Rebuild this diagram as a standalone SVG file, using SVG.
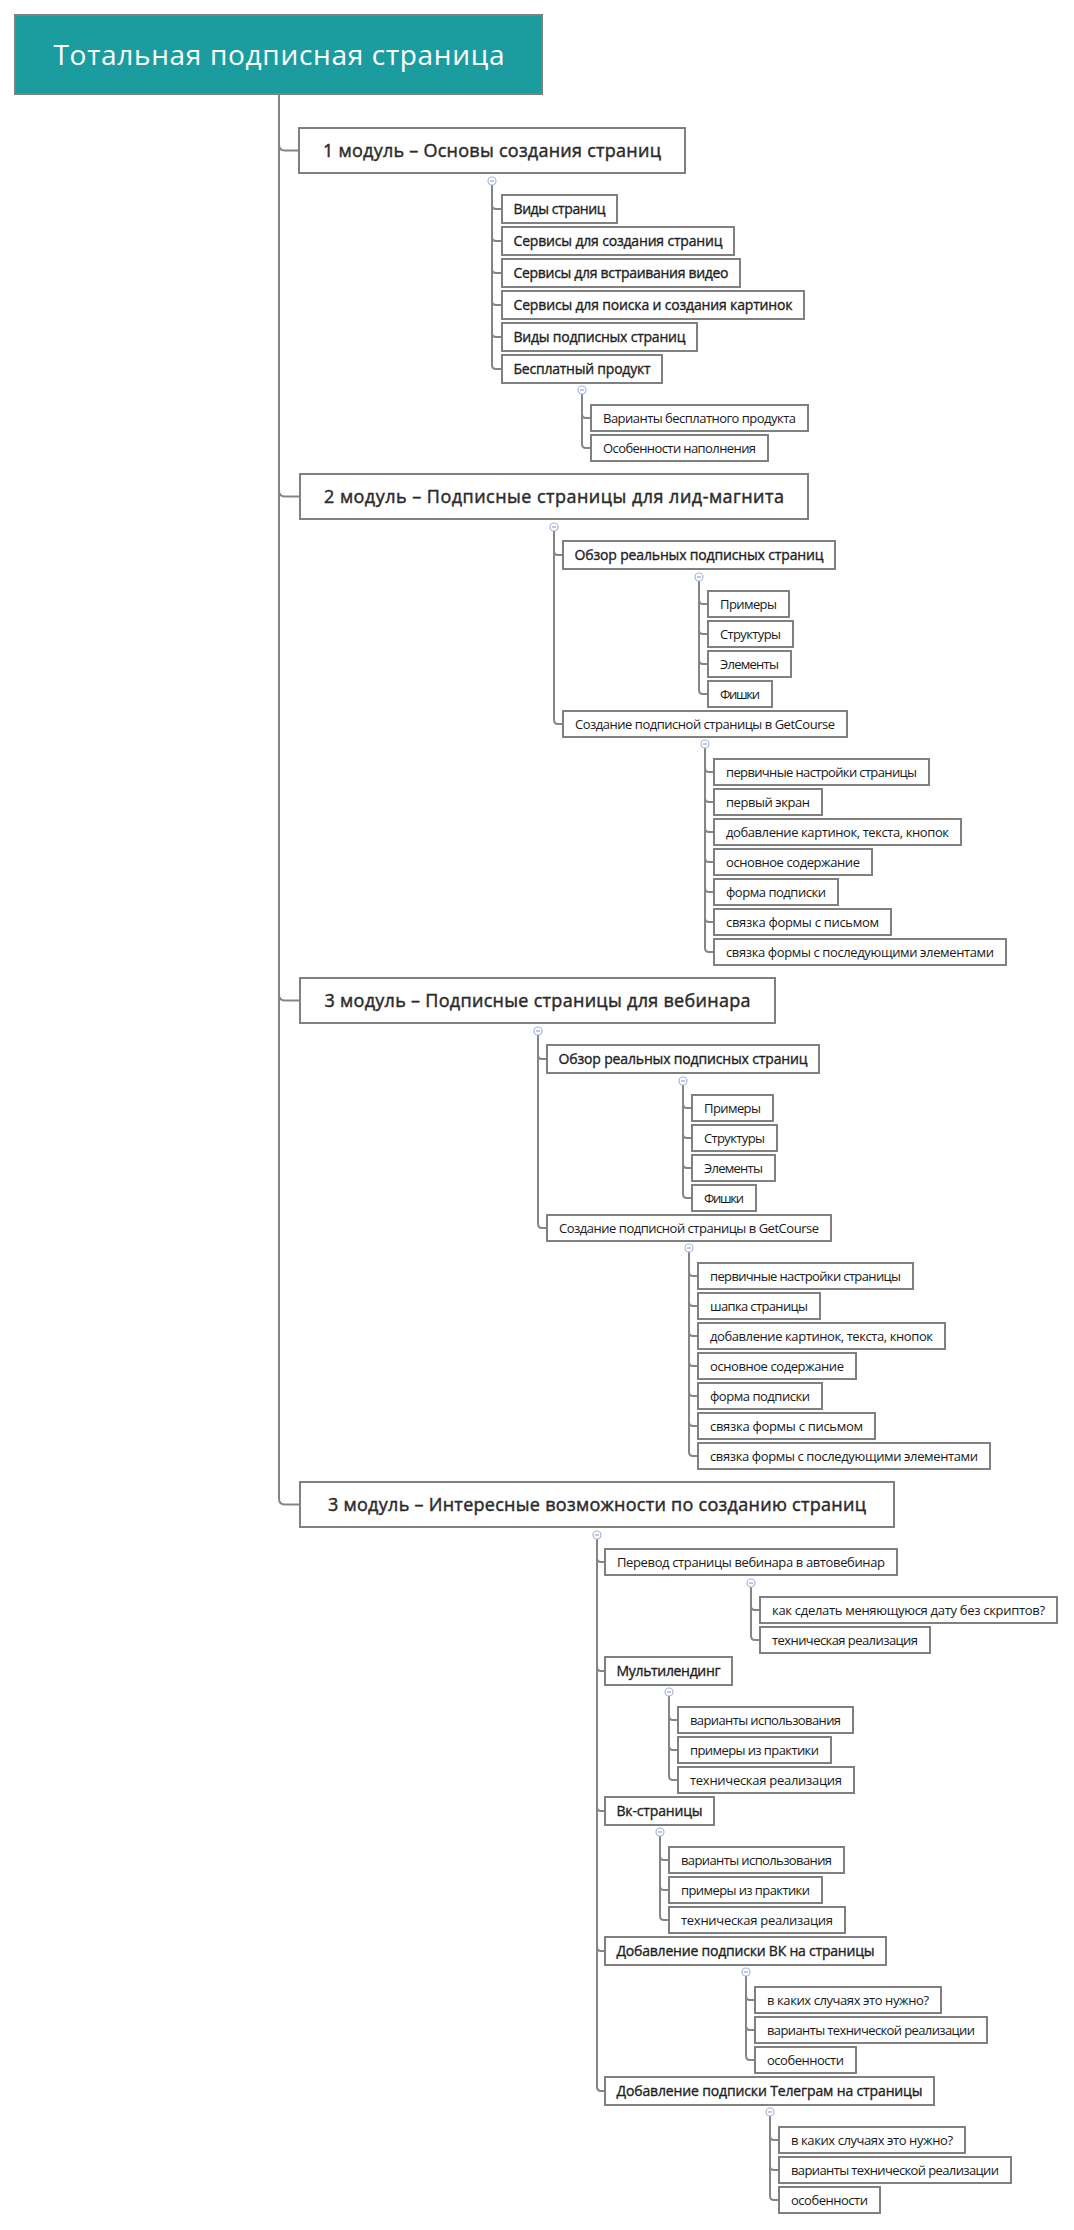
<svg xmlns="http://www.w3.org/2000/svg" width="1074" height="2230" viewBox="0 0 1074 2230">
<style>
rect{fill:#fff;stroke:#808080;stroke-width:2}
#root rect{fill:#1b9d9f}
text{font-family:"Open Sans","Noto Sans","DejaVu Sans",sans-serif;fill:#2a2a2a}
.t{font-size:28px;fill:#fff;text-anchor:middle}
.m{font-size:18px;text-anchor:middle;fill:#2b2b2b;stroke:#2b2b2b;stroke-width:0.45}
.d{font-size:14px;fill:#1e1e1e;stroke:#1e1e1e;stroke-width:0.35}
.r{font-size:13px;fill:#1a1a1a}
#connectors path{fill:none;stroke:#858585;stroke-width:2}
.tg circle{fill:#fff;stroke:#a6b4de;stroke-width:1.2}
.tg path{stroke:#7f91cf;stroke-width:1}
</style>
<rect width="1074" height="2230" style="fill:#fff;stroke:none"/>
<g id="connectors">
<path d="M279 94V144.5Q279 150.5 285 150.5H299"/>
<path d="M279 94V490.5Q279 496.5 285 496.5H300"/>
<path d="M279 94V994.5Q279 1000.5 285 1000.5H300"/>
<path d="M279 94V1498.5Q279 1504.5 285 1504.5H300"/>
<path d="M492 185V205Q492 209 496 209H502"/>
<path d="M492 185V237Q492 241 496 241H502"/>
<path d="M492 185V269Q492 273 496 273H502"/>
<path d="M492 185V301Q492 305 496 305H502"/>
<path d="M492 185V333Q492 337 496 337H502"/>
<path d="M492 185V365Q492 369 496 369H502"/>
<path d="M582 394V414Q582 418 586 418H591"/>
<path d="M582 394V444Q582 448 586 448H591"/>
<path d="M554 531V551Q554 555 558 555H563"/>
<path d="M554 531V720Q554 724 558 724H563"/>
<path d="M699 581V600Q699 604 703 604H708"/>
<path d="M699 581V630Q699 634 703 634H708"/>
<path d="M699 581V660Q699 664 703 664H708"/>
<path d="M699 581V690Q699 694 703 694H708"/>
<path d="M705 748V768Q705 772 709 772H714"/>
<path d="M705 748V798Q705 802 709 802H714"/>
<path d="M705 748V828Q705 832 709 832H714"/>
<path d="M705 748V858Q705 862 709 862H714"/>
<path d="M705 748V888Q705 892 709 892H714"/>
<path d="M705 748V918Q705 922 709 922H714"/>
<path d="M705 748V948Q705 952 709 952H714"/>
<path d="M538 1035V1055Q538 1059 542 1059H547"/>
<path d="M538 1035V1224Q538 1228 542 1228H547"/>
<path d="M683 1085V1104Q683 1108 687 1108H692"/>
<path d="M683 1085V1134Q683 1138 687 1138H692"/>
<path d="M683 1085V1164Q683 1168 687 1168H692"/>
<path d="M683 1085V1194Q683 1198 687 1198H692"/>
<path d="M689 1252V1272Q689 1276 693 1276H698"/>
<path d="M689 1252V1302Q689 1306 693 1306H698"/>
<path d="M689 1252V1332Q689 1336 693 1336H698"/>
<path d="M689 1252V1362Q689 1366 693 1366H698"/>
<path d="M689 1252V1392Q689 1396 693 1396H698"/>
<path d="M689 1252V1422Q689 1426 693 1426H698"/>
<path d="M689 1252V1452Q689 1456 693 1456H698"/>
<path d="M597 1539V1558Q597 1562 601 1562H605"/>
<path d="M597 1539V1667Q597 1671 601 1671H605"/>
<path d="M597 1539V1807Q597 1811 601 1811H605"/>
<path d="M597 1539V1947Q597 1951 601 1951H605"/>
<path d="M597 1539V2087Q597 2091 601 2091H605"/>
<path d="M751 1587V1606Q751 1610 755 1610H760"/>
<path d="M751 1587V1636Q751 1640 755 1640H760"/>
<path d="M669 1696V1716Q669 1720 673 1720H678"/>
<path d="M669 1696V1746Q669 1750 673 1750H678"/>
<path d="M669 1696V1776Q669 1780 673 1780H678"/>
<path d="M660 1836V1856Q660 1860 664 1860H669"/>
<path d="M660 1836V1886Q660 1890 664 1890H669"/>
<path d="M660 1836V1916Q660 1920 664 1920H669"/>
<path d="M746 1976V1996Q746 2000 750 2000H755"/>
<path d="M746 1976V2026Q746 2030 750 2030H755"/>
<path d="M746 1976V2056Q746 2060 750 2060H755"/>
<path d="M770 2116V2136Q770 2140 774 2140H779"/>
<path d="M770 2116V2166Q770 2170 774 2170H779"/>
<path d="M770 2116V2196Q770 2200 774 2200H779"/>
</g>
<g class="tg">
<circle cx="492" cy="181" r="4"/><path d="M490 181H494"/>
<circle cx="582" cy="390" r="4"/><path d="M580 390H584"/>
<circle cx="554" cy="527" r="4"/><path d="M552 527H556"/>
<circle cx="699" cy="577" r="4"/><path d="M697 577H701"/>
<circle cx="705" cy="744" r="4"/><path d="M703 744H707"/>
<circle cx="538" cy="1031" r="4"/><path d="M536 1031H540"/>
<circle cx="683" cy="1081" r="4"/><path d="M681 1081H685"/>
<circle cx="689" cy="1248" r="4"/><path d="M687 1248H691"/>
<circle cx="597" cy="1535" r="4"/><path d="M595 1535H599"/>
<circle cx="751" cy="1583" r="4"/><path d="M749 1583H753"/>
<circle cx="669" cy="1692" r="4"/><path d="M667 1692H671"/>
<circle cx="660" cy="1832" r="4"/><path d="M658 1832H662"/>
<circle cx="746" cy="1972" r="4"/><path d="M744 1972H748"/>
<circle cx="770" cy="2112" r="4"/><path d="M768 2112H772"/>
</g>
<g id="root"><rect x="15" y="15" width="527" height="79"/><text class="t" x="279" y="64.5" textLength="451">Тотальная подписная страница</text></g>
<g id="m1"><rect x="299" y="128" width="386" height="45"/><text class="m" x="492" y="157" textLength="338">1 модуль – Основы создания страниц</text></g>
<g id="m1-1"><rect x="502" y="195" width="115" height="28"/><text class="d" x="513.5" y="214" textLength="92">Виды страниц</text></g>
<g id="m1-2"><rect x="502" y="227" width="232" height="28"/><text class="d" x="513.5" y="246" textLength="209">Сервисы для создания страниц</text></g>
<g id="m1-3"><rect x="502" y="259" width="238" height="28"/><text class="d" x="513.5" y="278" textLength="215">Сервисы для встраивания видео</text></g>
<g id="m1-4"><rect x="502" y="291" width="302" height="28"/><text class="d" x="513.5" y="310" textLength="279">Сервисы для поиска и создания картинок</text></g>
<g id="m1-5"><rect x="502" y="323" width="195" height="28"/><text class="d" x="513.5" y="342" textLength="172">Виды подписных страниц</text></g>
<g id="m1-6"><rect x="502" y="355" width="160" height="28"/><text class="d" x="513.5" y="374" textLength="137">Бесплатный продукт</text></g>
<g id="m1-6-1"><rect x="591" y="405" width="217" height="26"/><text class="r" x="603" y="423" textLength="193">Варианты бесплатного продукта</text></g>
<g id="m1-6-2"><rect x="591" y="435" width="177" height="26"/><text class="r" x="603" y="453" textLength="153">Особенности наполнения</text></g>
<g id="m2"><rect x="300" y="474" width="508" height="45"/><text class="m" x="554" y="503" textLength="460">2 модуль – Подписные страницы для лид-магнита</text></g>
<g id="m2-1"><rect x="563" y="541" width="272" height="28"/><text class="d" x="574.5" y="560" textLength="249">Обзор реальных подписных страниц</text></g>
<g id="m2-1-1"><rect x="708" y="591" width="81" height="26"/><text class="r" x="720" y="609" textLength="57">Примеры</text></g>
<g id="m2-1-2"><rect x="708" y="621" width="85" height="26"/><text class="r" x="720" y="639" textLength="61">Структуры</text></g>
<g id="m2-1-3"><rect x="708" y="651" width="83" height="26"/><text class="r" x="720" y="669" textLength="59">Элементы</text></g>
<g id="m2-1-4"><rect x="708" y="681" width="64" height="26"/><text class="r" x="720" y="699" textLength="40">Фишки</text></g>
<g id="m2-2"><rect x="563" y="711" width="284" height="26"/><text class="r" x="575" y="729" textLength="260">Создание подписной страницы в GetCourse</text></g>
<g id="m2-2-1"><rect x="714" y="759" width="215" height="26"/><text class="r" x="726" y="777" textLength="191">первичные настройки страницы</text></g>
<g id="m2-2-2"><rect x="714" y="789" width="108" height="26"/><text class="r" x="726" y="807" textLength="84">первый экран</text></g>
<g id="m2-2-3"><rect x="714" y="819" width="247" height="26"/><text class="r" x="726" y="837" textLength="223">добавление картинок, текста, кнопок</text></g>
<g id="m2-2-4"><rect x="714" y="849" width="158" height="26"/><text class="r" x="726" y="867" textLength="134">основное содержание</text></g>
<g id="m2-2-5"><rect x="714" y="879" width="124" height="26"/><text class="r" x="726" y="897" textLength="100">форма подписки</text></g>
<g id="m2-2-6"><rect x="714" y="909" width="177" height="26"/><text class="r" x="726" y="927" textLength="153">связка формы с письмом</text></g>
<g id="m2-2-7"><rect x="714" y="939" width="292" height="26"/><text class="r" x="726" y="957" textLength="268">связка формы с последующими элементами</text></g>
<g id="m3"><rect x="300" y="978" width="475" height="45"/><text class="m" x="537.5" y="1007" textLength="426">3 модуль – Подписные страницы для вебинара</text></g>
<g id="m3-1"><rect x="547" y="1045" width="272" height="28"/><text class="d" x="558.5" y="1064" textLength="249">Обзор реальных подписных страниц</text></g>
<g id="m3-1-1"><rect x="692" y="1095" width="81" height="26"/><text class="r" x="704" y="1113" textLength="57">Примеры</text></g>
<g id="m3-1-2"><rect x="692" y="1125" width="85" height="26"/><text class="r" x="704" y="1143" textLength="61">Структуры</text></g>
<g id="m3-1-3"><rect x="692" y="1155" width="83" height="26"/><text class="r" x="704" y="1173" textLength="59">Элементы</text></g>
<g id="m3-1-4"><rect x="692" y="1185" width="64" height="26"/><text class="r" x="704" y="1203" textLength="40">Фишки</text></g>
<g id="m3-2"><rect x="547" y="1215" width="284" height="26"/><text class="r" x="559" y="1233" textLength="260">Создание подписной страницы в GetCourse</text></g>
<g id="m3-2-1"><rect x="698" y="1263" width="215" height="26"/><text class="r" x="710" y="1281" textLength="191">первичные настройки страницы</text></g>
<g id="m3-2-2"><rect x="698" y="1293" width="122" height="26"/><text class="r" x="710" y="1311" textLength="98">шапка страницы</text></g>
<g id="m3-2-3"><rect x="698" y="1323" width="247" height="26"/><text class="r" x="710" y="1341" textLength="223">добавление картинок, текста, кнопок</text></g>
<g id="m3-2-4"><rect x="698" y="1353" width="158" height="26"/><text class="r" x="710" y="1371" textLength="134">основное содержание</text></g>
<g id="m3-2-5"><rect x="698" y="1383" width="124" height="26"/><text class="r" x="710" y="1401" textLength="100">форма подписки</text></g>
<g id="m3-2-6"><rect x="698" y="1413" width="177" height="26"/><text class="r" x="710" y="1431" textLength="153">связка формы с письмом</text></g>
<g id="m3-2-7"><rect x="698" y="1443" width="292" height="26"/><text class="r" x="710" y="1461" textLength="268">связка формы с последующими элементами</text></g>
<g id="m4"><rect x="300" y="1482" width="594" height="45"/><text class="m" x="597" y="1511" textLength="538">3 модуль – Интересные возможности по созданию страниц</text></g>
<g id="m4-1"><rect x="605" y="1549" width="292" height="26"/><text class="r" x="617" y="1567" textLength="268">Перевод страницы вебинара в автовебинар</text></g>
<g id="m4-1-1"><rect x="760" y="1597" width="297" height="26"/><text class="r" x="772" y="1615" textLength="273">как сделать меняющуюся дату без скриптов?</text></g>
<g id="m4-1-2"><rect x="760" y="1627" width="170" height="26"/><text class="r" x="772" y="1645" textLength="146">техническая реализация</text></g>
<g id="m4-2"><rect x="605" y="1657" width="127" height="28"/><text class="d" x="616.5" y="1676" textLength="104">Мультилендинг</text></g>
<g id="m4-2-1"><rect x="678" y="1707" width="175" height="26"/><text class="r" x="690" y="1725" textLength="151">варианты использования</text></g>
<g id="m4-2-2"><rect x="678" y="1737" width="153" height="26"/><text class="r" x="690" y="1755" textLength="129">примеры из практики</text></g>
<g id="m4-2-3"><rect x="678" y="1767" width="176" height="26"/><text class="r" x="690" y="1785" textLength="152">техническая реализация</text></g>
<g id="m4-3"><rect x="605" y="1797" width="109" height="28"/><text class="d" x="616.5" y="1816" textLength="86">Вк-страницы</text></g>
<g id="m4-3-1"><rect x="669" y="1847" width="175" height="26"/><text class="r" x="681" y="1865" textLength="151">варианты использования</text></g>
<g id="m4-3-2"><rect x="669" y="1877" width="153" height="26"/><text class="r" x="681" y="1895" textLength="129">примеры из практики</text></g>
<g id="m4-3-3"><rect x="669" y="1907" width="176" height="26"/><text class="r" x="681" y="1925" textLength="152">техническая реализация</text></g>
<g id="m4-4"><rect x="605" y="1937" width="281" height="28"/><text class="d" x="616.5" y="1956" textLength="258">Добавление подписки ВК на страницы</text></g>
<g id="m4-4-1"><rect x="755" y="1987" width="186" height="26"/><text class="r" x="767" y="2005" textLength="162">в каких случаях это нужно?</text></g>
<g id="m4-4-2"><rect x="755" y="2017" width="232" height="26"/><text class="r" x="767" y="2035" textLength="208">варианты технической реализации</text></g>
<g id="m4-4-3"><rect x="755" y="2047" width="101" height="26"/><text class="r" x="767" y="2065" textLength="77">особенности</text></g>
<g id="m4-5"><rect x="605" y="2077" width="329" height="28"/><text class="d" x="616.5" y="2096" textLength="306">Добавление подписки Телеграм на страницы</text></g>
<g id="m4-5-1"><rect x="779" y="2127" width="186" height="26"/><text class="r" x="791" y="2145" textLength="162">в каких случаях это нужно?</text></g>
<g id="m4-5-2"><rect x="779" y="2157" width="232" height="26"/><text class="r" x="791" y="2175" textLength="208">варианты технической реализации</text></g>
<g id="m4-5-3"><rect x="779" y="2187" width="101" height="26"/><text class="r" x="791" y="2205" textLength="77">особенности</text></g>
</svg>
